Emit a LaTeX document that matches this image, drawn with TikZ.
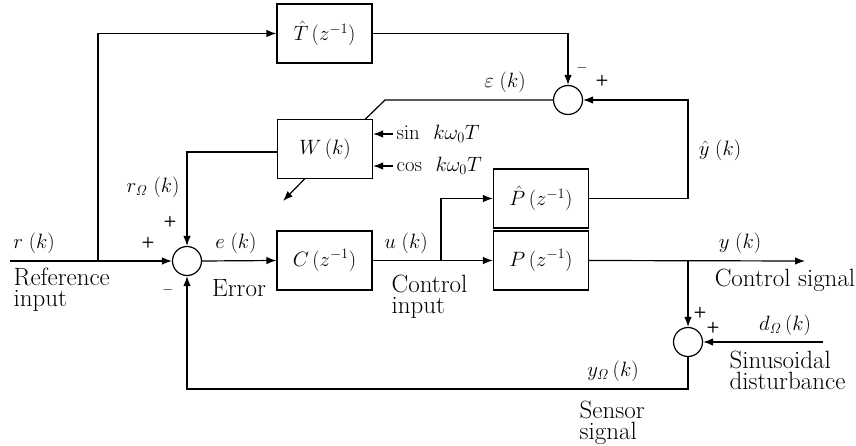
\documentclass[tikz,border=0pt]{standalone}
\usetikzlibrary{arrows.meta}
\begin{document}
\begin{tikzpicture}[x=1pt,y=-1pt,line width=1.2pt,
  font=\fontsize{22}{20}\selectfont,
  blk/.style={draw,minimum width=95pt,minimum height=59pt,inner sep=0pt},
  sm/.style={draw,circle,minimum size=29pt,inner sep=0pt},
  arr/.style={-{Latex[length=10pt,width=7.5pt]}},
  lab/.style={inner sep=0pt},
  txt/.style={inner sep=0pt,align=left,font=\fontsize{25}{21}\selectfont},
  pl/.style={inner sep=0pt,font=\fontsize{15}{15}\sffamily\bfseries},
  mn/.style={inner sep=0pt,font=\fontsize{14}{14}\selectfont}]
\useasboundingbox (0,0) rectangle (856,446);
% blocks
\node[blk] (T) at (324.5,33.5) {$\hat T\,(z^{-1})$};
\node[blk] (W) at (325,149) {$W\,(k)$};
\node[blk] (Ph) at (541,198.5) {$\hat P\,(z^{-1})$};
\node[blk] (C) at (324.5,260.5) {$C\,(z^{-1})$};
\node[blk] (P) at (541,260.5) {$P\,(z^{-1})$};
\node[sm] (s1) at (568,100) {};
\node[sm] (s2) at (187,261) {};
\node[sm] (s3) at (688,342) {};
% coordinates
\coordinate (rin) at (10,261);
\coordinate (br) at (98,261);
\coordinate (yh) at (688,100);
\coordinate (ek) at (385,100);
\coordinate (wt) at (365,119.5);
\coordinate (wo) at (277.5,152);
\coordinate (wd1) at (305,178.5);
\coordinate (wd2) at (283,201);
\coordinate (ub) at (441,261);
\coordinate (yout) at (805,261);
\coordinate (yb) at (688,261);
\coordinate (din) at (823,342);
\coordinate (fb) at (187,389);
% connectors
\draw[arr] (rin) -- (s2.west);
\draw[arr] (br) |- (T.west);
\draw[arr] (T.east) -| (s1.north);
\draw[arr] (Ph.east) -| (yh) -- (s1.east);
\draw (s1.west) -- (ek) -- (wt);
\node[lab,anchor=west,inner sep=3pt] (sint) at (393,134) {$\sin\ \,k\omega_0T$};
\node[lab,anchor=west,inner sep=3pt] (cost) at (393,166) {$\cos\ \,k\omega_0T$};
\draw[arr] (sint.west) -- (W.east |- sint.west);
\draw[arr] (cost.west) -- (W.east |- cost.west);
\draw[arr] (wo) -| (s2.north);
\draw[arr] (wd1) -- (wd2);
\draw[arr] (s2.east) -- (C.west);
\draw[arr] (C.east) -- (P.west);
\draw[arr] (ub) |- (Ph.west);
\draw[arr] (P.east) -- (yout);
\draw[arr] (yb) -- (s3.north);
\draw[arr] (din) -- (s3.east);
\draw[arr] (s3.south) |- (fb) -- (s2.south);
% labels
\node[lab] (lr) at (34,243) {$r\;(k)$};
\node[txt,anchor=west] (lref) at (13,290) {Reference\\input};
\node[pl] (p1) at (148,243) {+};
\node[pl] (p2) at (170,222) {+};
\node[mn] (m1) at (168,290) {$-$};
\node[lab] (lrO) at (153,187) {$r_{\mathit\Omega}\;(k)$};
\node[lab] (le) at (236,243) {$e\;(k)$};
\node[txt] (lerr) at (239,288) {Error};
\node[lab] (lu) at (406,243) {$u\;(k)$};
\node[txt,anchor=west] (lci) at (391,297) {Control\\input};
\node[lab] (leps) at (505,82) {$\varepsilon\;(k)$};
\node[mn] (m2) at (582,68) {$-$};
\node[pl] (p3) at (602,81) {+};
\node[lab] (lyh) at (720,150) {$\hat y\;(k)$};
\node[lab] (ly) at (740,243) {$y\;(k)$};
\node[txt] (lcs) at (785,280) {Control signal};
\node[pl] (p4) at (700,313) {+};
\node[pl] (p5) at (713,328) {+};
\node[lab] (ld) at (785,325) {$d_{\mathit\Omega}\,(k)$};
\node[txt,anchor=west] (lsd) at (729,370) {Sinusoidal\\disturbance};
\node[lab] (lyO) at (613,371) {$y_{\mathit\Omega}\,(k)$};
\node[txt,anchor=west] (lss) at (579,423) {Sensor\\signal};
\end{tikzpicture}
\end{document}
